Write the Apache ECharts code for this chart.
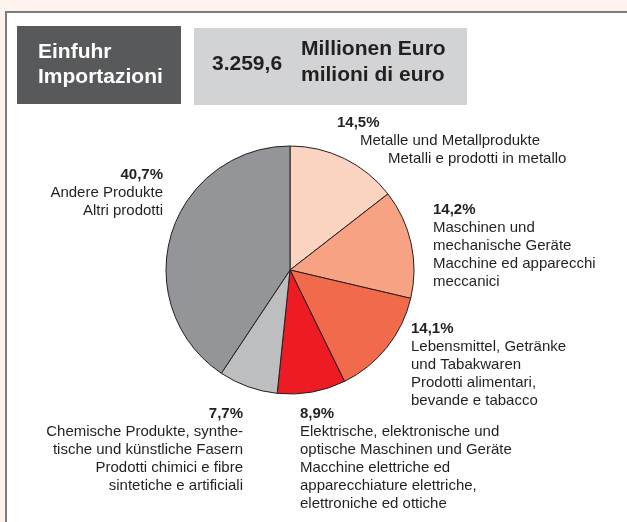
<!DOCTYPE html>
<html>
<head>
<meta charset="utf-8">
<script src="https://cdn.jsdelivr.net/npm/echarts@6/dist/echarts.min.js"></script>
<style>
  html, body { margin: 0; padding: 0; background: #fdf2ec; }
  #main { width: 627px; height: 522px; }
</style>
</head>
<body>
<div id="main"></div>
<script>
// data, clockwise from the top
var categories = [
  'Metalle und Metallprodukte',
  'Maschinen und mechanische Geräte',
  'Lebensmittel, Getränke und Tabakwaren',
  'Elektrische, elektronische und optische Maschinen und Geräte',
  'Chemische Produkte, synthetische und künstliche Fasern',
  'Andere Produkte'
];
var shares = [14.5, 14.2, 14.1, 8.9, 7.7, 40.7];
var labelLines = [
  ['Metalle und Metallprodukte', 'Metalli e prodotti in metallo'],
  ['Maschinen und', 'mechanische Geräte', 'Macchine ed apparecchi', 'meccanici'],
  ['Lebensmittel, Getränke', 'und Tabakwaren', 'Prodotti alimentari,', 'bevande e tabacco'],
  ['Elektrische, elektronische und', 'optische Maschinen und Geräte', 'Macchine elettriche ed', 'apparecchiature elettriche,', 'elettroniche ed ottiche'],
  ['Chemische Produkte, synthe-', 'tische und künstliche Fasern', 'Prodotti chimici e fibre', 'sintetiche e artificiali'],
  ['Andere Produkte', 'Altri prodotti']
];
var titleLeft = ['Einfuhr', 'Importazioni'];
var total = '3.259,6';
var unitLines = ['Millionen Euro', 'milioni di euro'];

// styles / layout
var colors = ['#fbd3c1', '#f6a283', '#f26a4c', '#ed1c24', '#bcbec0', '#939598'];
var labelPos = [
  { x: 337, y: 114, align: 'left' },
  { x: 433, y: 201, align: 'left' },
  { x: 411, y: 320, align: 'left' },
  { x: 300, y: 405, align: 'left' },
  { x: 243, y: 405, align: 'right' },
  { x: 163, y: 166, align: 'right' }
];
var lineIndent = [[23, 51], [], [], [], [], []];
var FONT = '"Liberation Sans", Arial, Helvetica, sans-serif';
var TEXT = '#231f20';

var chart = echarts.init(document.getElementById('main'), null, { renderer: 'canvas' });

var rich = {
  p: { fontFamily: FONT, fontSize: 15, fontWeight: 'bold', lineHeight: 18, color: TEXT },
  t: { fontFamily: FONT, fontSize: 15, lineHeight: 18, color: TEXT }
};
lineIndent.forEach(function (arr) {
  arr.forEach(function (v) {
    rich['i' + v] = { fontFamily: FONT, fontSize: 15, lineHeight: 18, color: TEXT, padding: [0, 0, 0, v] };
  });
});

function pct(v) {
  return v.toFixed(1).replace('.', ',') + '%';
}

var pieData = categories.map(function (name, i) {
  return {
    name: name,
    value: shares[i],
    itemStyle: { color: colors[i] },
    label: { align: labelPos[i].align }
  };
});

var option = {
  backgroundColor: '#fdf2ec',
  animation: false,
  graphic: [
    { type: 'rect', shape: { x: 6, y: 12, width: 800, height: 700 },
      style: { fill: '#ffffff', stroke: '#7a7b7e', lineWidth: 2 }, z: -10 },
    { type: 'rect', shape: { x: 17, y: 26, width: 164, height: 78 }, style: { fill: '#58595b' } },
    { type: 'text', style: { text: titleLeft[0], x: 38, y: 52, fill: '#ffffff', font: 'bold 21px ' + FONT, verticalAlign: 'middle' } },
    { type: 'text', style: { text: titleLeft[1], x: 38, y: 77, fill: '#ffffff', font: 'bold 21px ' + FONT, verticalAlign: 'middle' } },
    { type: 'rect', shape: { x: 194, y: 28, width: 273, height: 77 }, style: { fill: '#d1d3d4' } },
    { type: 'text', style: { text: total, x: 212, y: 64, fill: TEXT, font: 'bold 21px ' + FONT, verticalAlign: 'middle' } },
    { type: 'text', style: { text: unitLines[0], x: 301, y: 49, fill: TEXT, font: 'bold 21px ' + FONT, verticalAlign: 'middle' } },
    { type: 'text', style: { text: unitLines[1], x: 301, y: 75, fill: TEXT, font: 'bold 21px ' + FONT, verticalAlign: 'middle' } }
  ],
  series: [{
    type: 'pie',
    center: [290, 270],
    radius: 124,
    startAngle: 90,
    clockwise: true,
    avoidLabelOverlap: false,
    emphasis: { disabled: true },
    itemStyle: { borderColor: '#231f20', borderWidth: 1 },
    label: {
      show: true,
      position: 'outside',
      rich: rich,
      formatter: function (p) {
        var i = p.dataIndex;
        var s = '{p|' + pct(shares[i]) + '}';
        labelLines[i].forEach(function (ln, k) {
          var ind = lineIndent[i][k];
          s += '\n{' + (ind ? 'i' + ind : 't') + '|' + ln + '}';
        });
        return s;
      }
    },
    labelLine: { show: false },
    labelLayout: function (p) {
      var pos = labelPos[p.dataIndex];
      return { x: pos.x, y: pos.y, align: pos.align, verticalAlign: 'top' };
    },
    data: pieData
  }]
};
chart.setOption(option);
</script>
</body>
</html>
